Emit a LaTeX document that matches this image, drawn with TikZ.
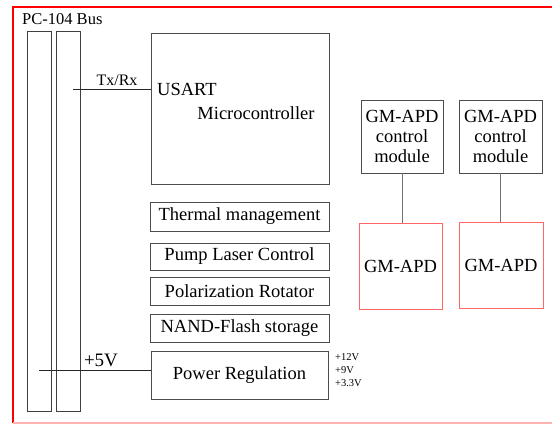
\documentclass[tikz,border=0pt]{standalone}
\usepackage{fontspec}
\setmainfont{Liberation Serif}

\tikzset{link/.style={draw=black!85,line width=0.9pt}}

\begin{document}
\begin{tikzpicture}[
	x=1pt,y=-1pt,
	box/.style={rectangle,draw=black!70,line width=0.9pt,inner sep=0pt,font=\fontsize{18.5}{20}\selectfont},
	apd/.style={rectangle,draw=red!60,line width=0.9pt,inner sep=0pt,minimum height=86pt,font=\fontsize{18.5}{20}\selectfont},
	bar/.style={rectangle,draw=black!75,line width=0.9pt,minimum width=24.5pt,minimum height=380.5pt,inner sep=0pt},
	lbl/.style={inner sep=0pt,font=\fontsize{18.5}{20}\selectfont},
	frame/.style={draw=red,line width=1.8pt},
	]
	
	\useasboundingbox (0,0) rectangle (552,424);
	
	% outer frame
	\draw[frame] (13,423) -- (13,7) -- (560,7);
	\draw[draw=red!30,line width=1.5pt] (13,423) -- (560,423);
	\node[lbl,font=\fontsize{16.5}{18}\selectfont,anchor=base west] (bus) at (22,24) {PC-104 Bus};
	
	% bus bars
	\node[bar] (bar1) at (39.25,221.25) {};
	\node[bar] (bar2) at (68.5,221.25) {};
	
	% microcontroller
	\node[box,minimum width=178pt,minimum height=151pt] (mcu) at (240,108.5) {};
	\node[lbl,anchor=west] (usart) at (157,89) {USART};
	\node[lbl] (micro) at (256,113) {Microcontroller};
	
	% peripherals
	\node[box,minimum width=179pt,minimum height=29pt] (thermal) at (239.5,216.5) {Thermal management};
	\node[box,minimum width=179pt,minimum height=27pt] (pump) at (239.5,256.5) {Pump Laser Control};
	\node[box,minimum width=179pt,minimum height=28pt] (polar) at (239.5,291) {Polarization Rotator};
	\node[box,minimum width=179pt,minimum height=28pt] (nand) at (239.5,328) {NAND-Flash storage};
	\node[box,minimum width=177pt,minimum height=48pt] (power) at (239.5,375) {Power Regulation};
	\node[inner sep=0pt,anchor=west,align=left,font=\fontsize{10.5}{13}\selectfont] (volts) at (335,370) {+12V\\+9V\\+3.3V};
	
	% bus links
	\coordinate (txrx) at (73,89);
	\draw[link] (txrx) -- (txrx -| mcu.west);
	\node[lbl,font=\fontsize{16}{18}\selectfont] (txrxlbl) at (117,80) {Tx/Rx};
	\coordinate (vin) at (39,370);
	\draw[link] (vin) -- (vin -| power.west);
	\node[lbl,font=\fontsize{19}{20}\selectfont] (vinlbl) at (101,360) {+5V};
	
	% GM-APD modules
	\node[box,minimum width=82pt,minimum height=73pt,align=center] (ctrl1) at (402,136.5) {GM-APD\\control\\module};
	\node[box,minimum width=83pt,minimum height=73pt,align=center] (ctrl2) at (500.5,136.5) {GM-APD\\control\\module};
	\node[apd,minimum width=83pt] (apd1) at (400.5,266) {GM-APD};
	\node[apd,minimum width=84pt] (apd2) at (501,265.5) {GM-APD};
	\draw[draw=black!55,line width=0.9pt] (ctrl1.south) -- (ctrl1.south |- apd1.north);
	\draw[draw=black!55,line width=0.9pt] (ctrl2.south) -- (ctrl2.south |- apd2.north);

\end{tikzpicture}
\end{document}
